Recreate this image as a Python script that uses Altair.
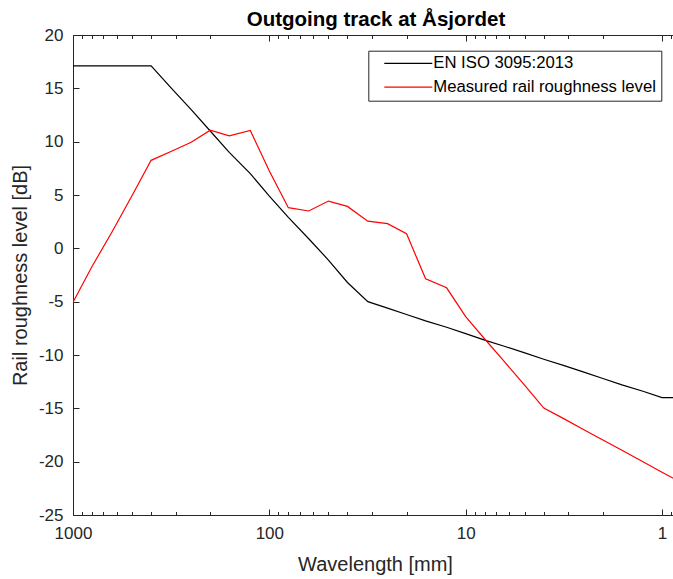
import altair as alt
import pandas as pd

# ---- data ----
wavelength_mm = [1000, 800, 630, 500, 400, 315, 250, 200, 160, 125, 100, 80, 63, 50, 40,
                 31.5, 25, 20, 16, 12.5, 10, 8, 6.3, 5, 4, 3.15, 2.5, 2, 1.6, 1.25, 1, 0.8]
iso_limit_db = [17.1, 17.1, 17.1, 17.1, 17.1, 15.0, 13.0, 11.0, 9.0, 7.0, 4.9, 2.9, 0.9, -1.1, -3.2,
                -5.0, -5.6, -6.2, -6.8, -7.4, -8.0, -8.6, -9.2, -9.8, -10.4, -11.0, -11.6, -12.2,
                -12.8, -13.4, -14.0, -14.0]
measured_db = [-5.05, -1.7, 1.6, 4.95, 8.25, 9.1, 9.95, 11.07, 10.55, 11.05, 7.25, 3.81, 3.5, 4.43,
               3.93, 2.55, 2.31, 1.37, -2.86, -3.7, -6.4, -8.5, -10.7, -12.85, -14.98, -15.99,
               -17.0, -17.96, -18.93, -20.0, -21.0, -21.95]
series_names = ["EN ISO 3095:2013", "Measured rail roughness level"]
series_colors = ["#000000", "#ff0000"]

x_tick_values = [1000, 900, 800, 700, 600, 500, 400, 300, 200,
                 100, 90, 80, 70, 60, 50, 40, 30, 20,
                 10, 9, 8, 7, 6, 5, 4, 3, 2,
                 1, 0.9]
y_tick_values = [-25, -20, -15, -10, -5, 0, 5, 10, 15, 20]
x_domain = [0.879, 1000]
y_domain = [-25, 20]

rows = []
for w, a, b in zip(wavelength_mm, iso_limit_db, measured_db):
    rows.append({"wavelength": w, "level": a, "series": series_names[0]})
    rows.append({"wavelength": w, "level": b, "series": series_names[1]})
df = pd.DataFrame(rows)

# ---- styling ----
W, H = 600, 480
FONT = "Liberation Sans"
AX = "#262626"
major_test = "abs(log(datum.value)/LN10 - round(log(datum.value)/LN10)) < 0.001"
# negative tick sizes -> ticks drawn inward (MATLAB style)
x_tick_size = {"condition": {"test": major_test, "value": -6}, "value": -3.5}
y_tick_size = {"condition": {"test": "datum.value > -1000", "value": -6}, "value": -6}

xscale = alt.Scale(type="log", domain=x_domain, reverse=True, nice=False)
yscale = alt.Scale(domain=y_domain, nice=False, zero=False)

# top edge: inward ticks
x_top_axis = alt.Axis(
    orient="top", values=x_tick_values, labels=False, domain=True, domainColor=AX,
    domainWidth=1, grid=False, ticks=True, tickColor=AX, tickWidth=1,
    tickSize=x_tick_size, title=None,
)
# left axis: labels + inward ticks
y_axis = alt.Axis(
    orient="left", values=y_tick_values, labelExpr="'' + datum.value", ticks=True,
    tickColor=AX, tickWidth=1, tickSize=y_tick_size,
    domain=True, domainColor=AX, domainWidth=1, grid=False, labelFont=FONT,
    labelFontSize=17, labelColor=AX, labelPadding=16, labelFlush=False, labelOverlap=False,
    title="Rail roughness level [dB]", titleFont=FONT, titleFontSize=20,
    titleFontWeight="normal", titleColor=AX, titleX=-47, titleY=240,
    titleBaseline="alphabetic", titleAlign="center", titleAngle=270,
)
# bottom axis: labels at decades + inward ticks
x_bottom_axis = alt.Axis(
    orient="bottom", values=x_tick_values,
    labelExpr=f"({major_test}) ? '' + datum.value : ''",
    ticks=True, tickColor=AX, tickWidth=1, tickSize=x_tick_size,
    domain=True, domainColor=AX, domainWidth=1, grid=False, labelFont=FONT,
    labelFontSize=17, labelColor=AX, labelPadding=16.5, labelFlush=False, labelOverlap=False,
    title="Wavelength [mm]", titleFont=FONT, titleFontSize=20, titleFontWeight="normal",
    titleColor=AX, titleX=302, titleY=39, titleBaseline="top", titleAlign="center",
)

legend = alt.Legend(
    orient="none", legendX=295.3, legendY=15.7, title=None, symbolType="stroke",
    symbolSize=2304, symbolStrokeWidth=1.2, clipHeight=16, rowPadding=6.8, padding=4.6,
    symbolOffset=10.4, labelOffset=0, labelFont=FONT, labelFontSize=16.7,
    labelColor="#000000", labelLimit=400, strokeColor=AX, fillColor="white", cornerRadius=0,
)

base = alt.Chart(df)

lines = base.mark_line(strokeWidth=1.2, clip=True).encode(
    x=alt.X("wavelength:Q", scale=xscale, axis=x_top_axis),
    y=alt.Y("level:Q", scale=yscale, axis=y_axis),
    color=alt.Color("series:N", scale=alt.Scale(domain=series_names, range=series_colors),
                    legend=legend, sort=series_names),
)

bottom = base.mark_line(opacity=0).encode(
    x=alt.X("wavelength:Q", scale=xscale, axis=x_bottom_axis),
    y=alt.Y("level:Q", scale=yscale, axis=None),
)

chart = alt.layer(lines, bottom).resolve_axis(
    x="independent", y="independent"
).properties(
    width=W, height=H,
    padding={"left": 73, "top": 35, "right": 0, "bottom": 64},
    autosize=alt.AutoSizeParams(type="none"),
    title=alt.TitleParams(text="Outgoing track at Åsjordet", font=FONT, fontSize=20.5,
                          fontWeight="bold", color="#000000", anchor="middle", frame="group",
                          offset=-4, dx=3),
).configure_view(stroke=AX, strokeWidth=1).configure(background="white")

chart.save("out.html", embed_options={"renderer": "svg", "actions": False})
